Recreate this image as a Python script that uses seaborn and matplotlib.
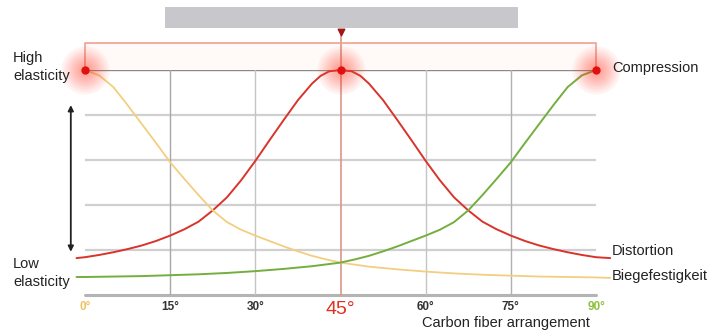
"""Carbon fiber arrangement vs. elasticity, redrawn with seaborn."""

import matplotlib

matplotlib.use("Agg")
import matplotlib.pyplot as plt
import pandas as pd
import seaborn as sns

W, H = 720, 333

# Kurven (Winkel in Grad, Werte in Rasterstufen 0..5)
distortion_deg = [-1.5, 0, 2.5, 5, 7.5, 10, 12.5, 15, 17.5, 20, 22.5, 25, 27.5, 30, 32.5,
                  35, 37.5, 40, 41.5, 43, 45, 47, 48.5, 50, 52.5, 55, 57.5, 60, 62.5, 65, 67.5,
                  70, 72.5, 75, 77.5, 80, 82.5, 85, 87.5, 90, 92.5]
distortion_val = [0.82, 0.84, 0.89, 0.95, 1.02, 1.10, 1.20, 1.32, 1.46, 1.63, 1.88, 2.17, 2.55,
                  2.98, 3.44, 3.89, 4.33, 4.70, 4.87, 4.97, 5.0, 4.97, 4.87, 4.70, 4.33, 3.89,
                  3.44, 2.98, 2.55, 2.17, 1.88, 1.63, 1.46, 1.32, 1.20, 1.10, 1.02, 0.95, 0.89,
                  0.84, 0.82]
biege_deg = [0, 2.5, 5, 7.5, 10, 12.5, 15, 17.5, 20, 22.5, 25, 27.5, 30, 32.5, 35, 37.5,
             40, 42.5, 45, 50, 55, 60, 65, 70, 75, 80, 85, 90, 92.5]
biege_val = [5.0, 4.88, 4.62, 4.22, 3.8, 3.38, 2.95, 2.58, 2.22, 1.88, 1.62, 1.45, 1.32, 1.2,
             1.08, 0.97, 0.87, 0.79, 0.72, 0.63, 0.57, 0.52, 0.48, 0.45, 0.43, 0.41, 0.40,
             0.39, 0.38]
compression_deg = [-1.5, 0, 5, 10, 15, 20, 25, 30, 35, 40, 45, 47.5, 50, 52.5, 55, 57.5,
                   60, 62.5, 65, 67.5, 70, 72.5, 75, 77.5, 80, 82.5, 85, 87.5, 90]
compression_val = [0.40, 0.40, 0.41, 0.42, 0.44, 0.46, 0.49, 0.53, 0.58, 0.64, 0.72, 0.79, 0.87,
                   0.97, 1.08, 1.2, 1.32, 1.45, 1.62, 1.88, 2.22, 2.58, 2.95, 3.38, 3.8, 4.22,
                   4.62, 4.88, 5.0]

tick_deg = [0, 15, 30, 45, 60, 75, 90]
tick_labels = ["0°", "15°", "30°", "45°", "60°", "75°", "90°"]
peak_deg = [0, 45, 90]
peak_val = [5, 5, 5]

FONT = ["Liberation Sans", "DejaVu Sans"]
RED = "#d8342c"
YELLOW = "#f2cf80"
GREEN = "#74ae3e"


def px(x, y):
    return x / W, 1 - y / H


sns.set_style("white")
plt.rcParams["font.family"] = FONT

fig = plt.figure(figsize=(W / 100, H / 100), dpi=100)
x0, x1, y0, y1 = 85, 596, 295, 70
ax = fig.add_axes([x0 / W, 1 - y0 / H, (x1 - x0) / W, (y0 - y1) / H])
ax.set_xlim(0, 90)
ax.set_ylim(0, 5)
for s in ax.spines.values():
    s.set_visible(False)

# Raster
for v in [1, 2, 3, 4]:
    ax.plot([0, 90], [v, v], color="#d0d0d0", lw=1.6, zorder=1)
ax.plot([0, 90], [5, 5], color="#8a8a8a", lw=1.0, zorder=1)
ax.plot([0, 90], [0, 0], color="#b4b4b4", lw=2.2, zorder=1, clip_on=False)
for d, c in [(15, "#a8a8a8"), (30, "#c4c4c4"), (60, "#c4c4c4"), (75, "#b0b0b0")]:
    ax.plot([d, d], [0, 5], color=c, lw=1.0, zorder=1)
ax.plot([45, 45], [0, 5.84], color="#d89888", lw=1.2, zorder=1, clip_on=False)

# Klammer oben und grauer Balken
ax.fill_between([0, 90], 5, 5.6, color="#fffaf8", zorder=0, clip_on=False)
ax.plot([0, 0, 90, 90], [5, 5.6, 5.6, 5], color="#f0a090", lw=1.2, zorder=1, clip_on=False)
ax.add_patch(plt.Rectangle((14.1, 5.93), 62.2, 0.47, color="#c8c8cc", lw=0,
                           clip_on=False, zorder=1))
ax.scatter([45], [5.84], marker="v", s=22, color="#a01818", zorder=5, clip_on=False)

# Kurven
curves = [
    (distortion_deg, distortion_val, RED, 1.4),
    (biege_deg, biege_val, YELLOW, 1.3),
    (compression_deg, compression_val, GREEN, 1.4),
]
for deg, val, col, lw in curves:
    df = pd.DataFrame({"deg": deg, "val": val})
    sns.lineplot(data=df, x="deg", y="val", color=col, lw=lw, ax=ax, zorder=3,
                 clip_on=False, legend=False)

# Leuchtpunkte
for size in [1200, 950, 750, 580, 440, 320, 220, 140, 80]:
    ax.scatter(peak_deg, peak_val, s=size, color="#ff3a28", alpha=0.06, lw=0,
               zorder=4, clip_on=False)
ax.scatter(peak_deg, peak_val, s=36, color="#e01010", lw=0, zorder=6, clip_on=False)

# Pfeil links
ax.annotate("", xy=(-2.5, 4.22), xytext=(-2.5, 0.96), xycoords="data",
            arrowprops=dict(arrowstyle="<|-|>", color="#222222", lw=1.3,
                            mutation_scale=8, shrinkA=0, shrinkB=0),
            annotation_clip=False)

# Achsenbeschriftung
ax.set_xticks(tick_deg)
ax.set_xticklabels(tick_labels)
ax.set_yticks([])
ax.tick_params(axis="x", length=0, pad=4)
ax.set_xlabel("")
ax.set_ylabel("")
tick_colors = ["#f0c060", "#333333", "#333333", "#e03020", "#333333", "#333333", "#90c040"]
for lab, col in zip(ax.get_xticklabels(), tick_colors):
    lab.set_color(col)
    lab.set_fontsize(8.5)
    lab.set_fontweight("bold")
lbl45 = ax.get_xticklabels()[3]
lbl45.set_fontsize(14)
lbl45.set_fontweight("normal")

txt = dict(fontsize=10.5, color="#222222", va="center")
fig.text(*px(13, 67), "High\nelasticity", ha="left", linespacing=1.3, **txt)
fig.text(*px(13, 273), "Low\nelasticity", ha="left", linespacing=1.3, **txt)
fig.text(*px(612, 68), "Compression", ha="left", **txt)
fig.text(*px(612, 251), "Distortion", ha="left", **txt)
fig.text(*px(612, 276), "Biegefestigkeit", ha="left", **txt)
fig.text(*px(506, 323), "Carbon fiber arrangement", ha="center", **txt)

fig.savefig("out.png", dpi=100)
